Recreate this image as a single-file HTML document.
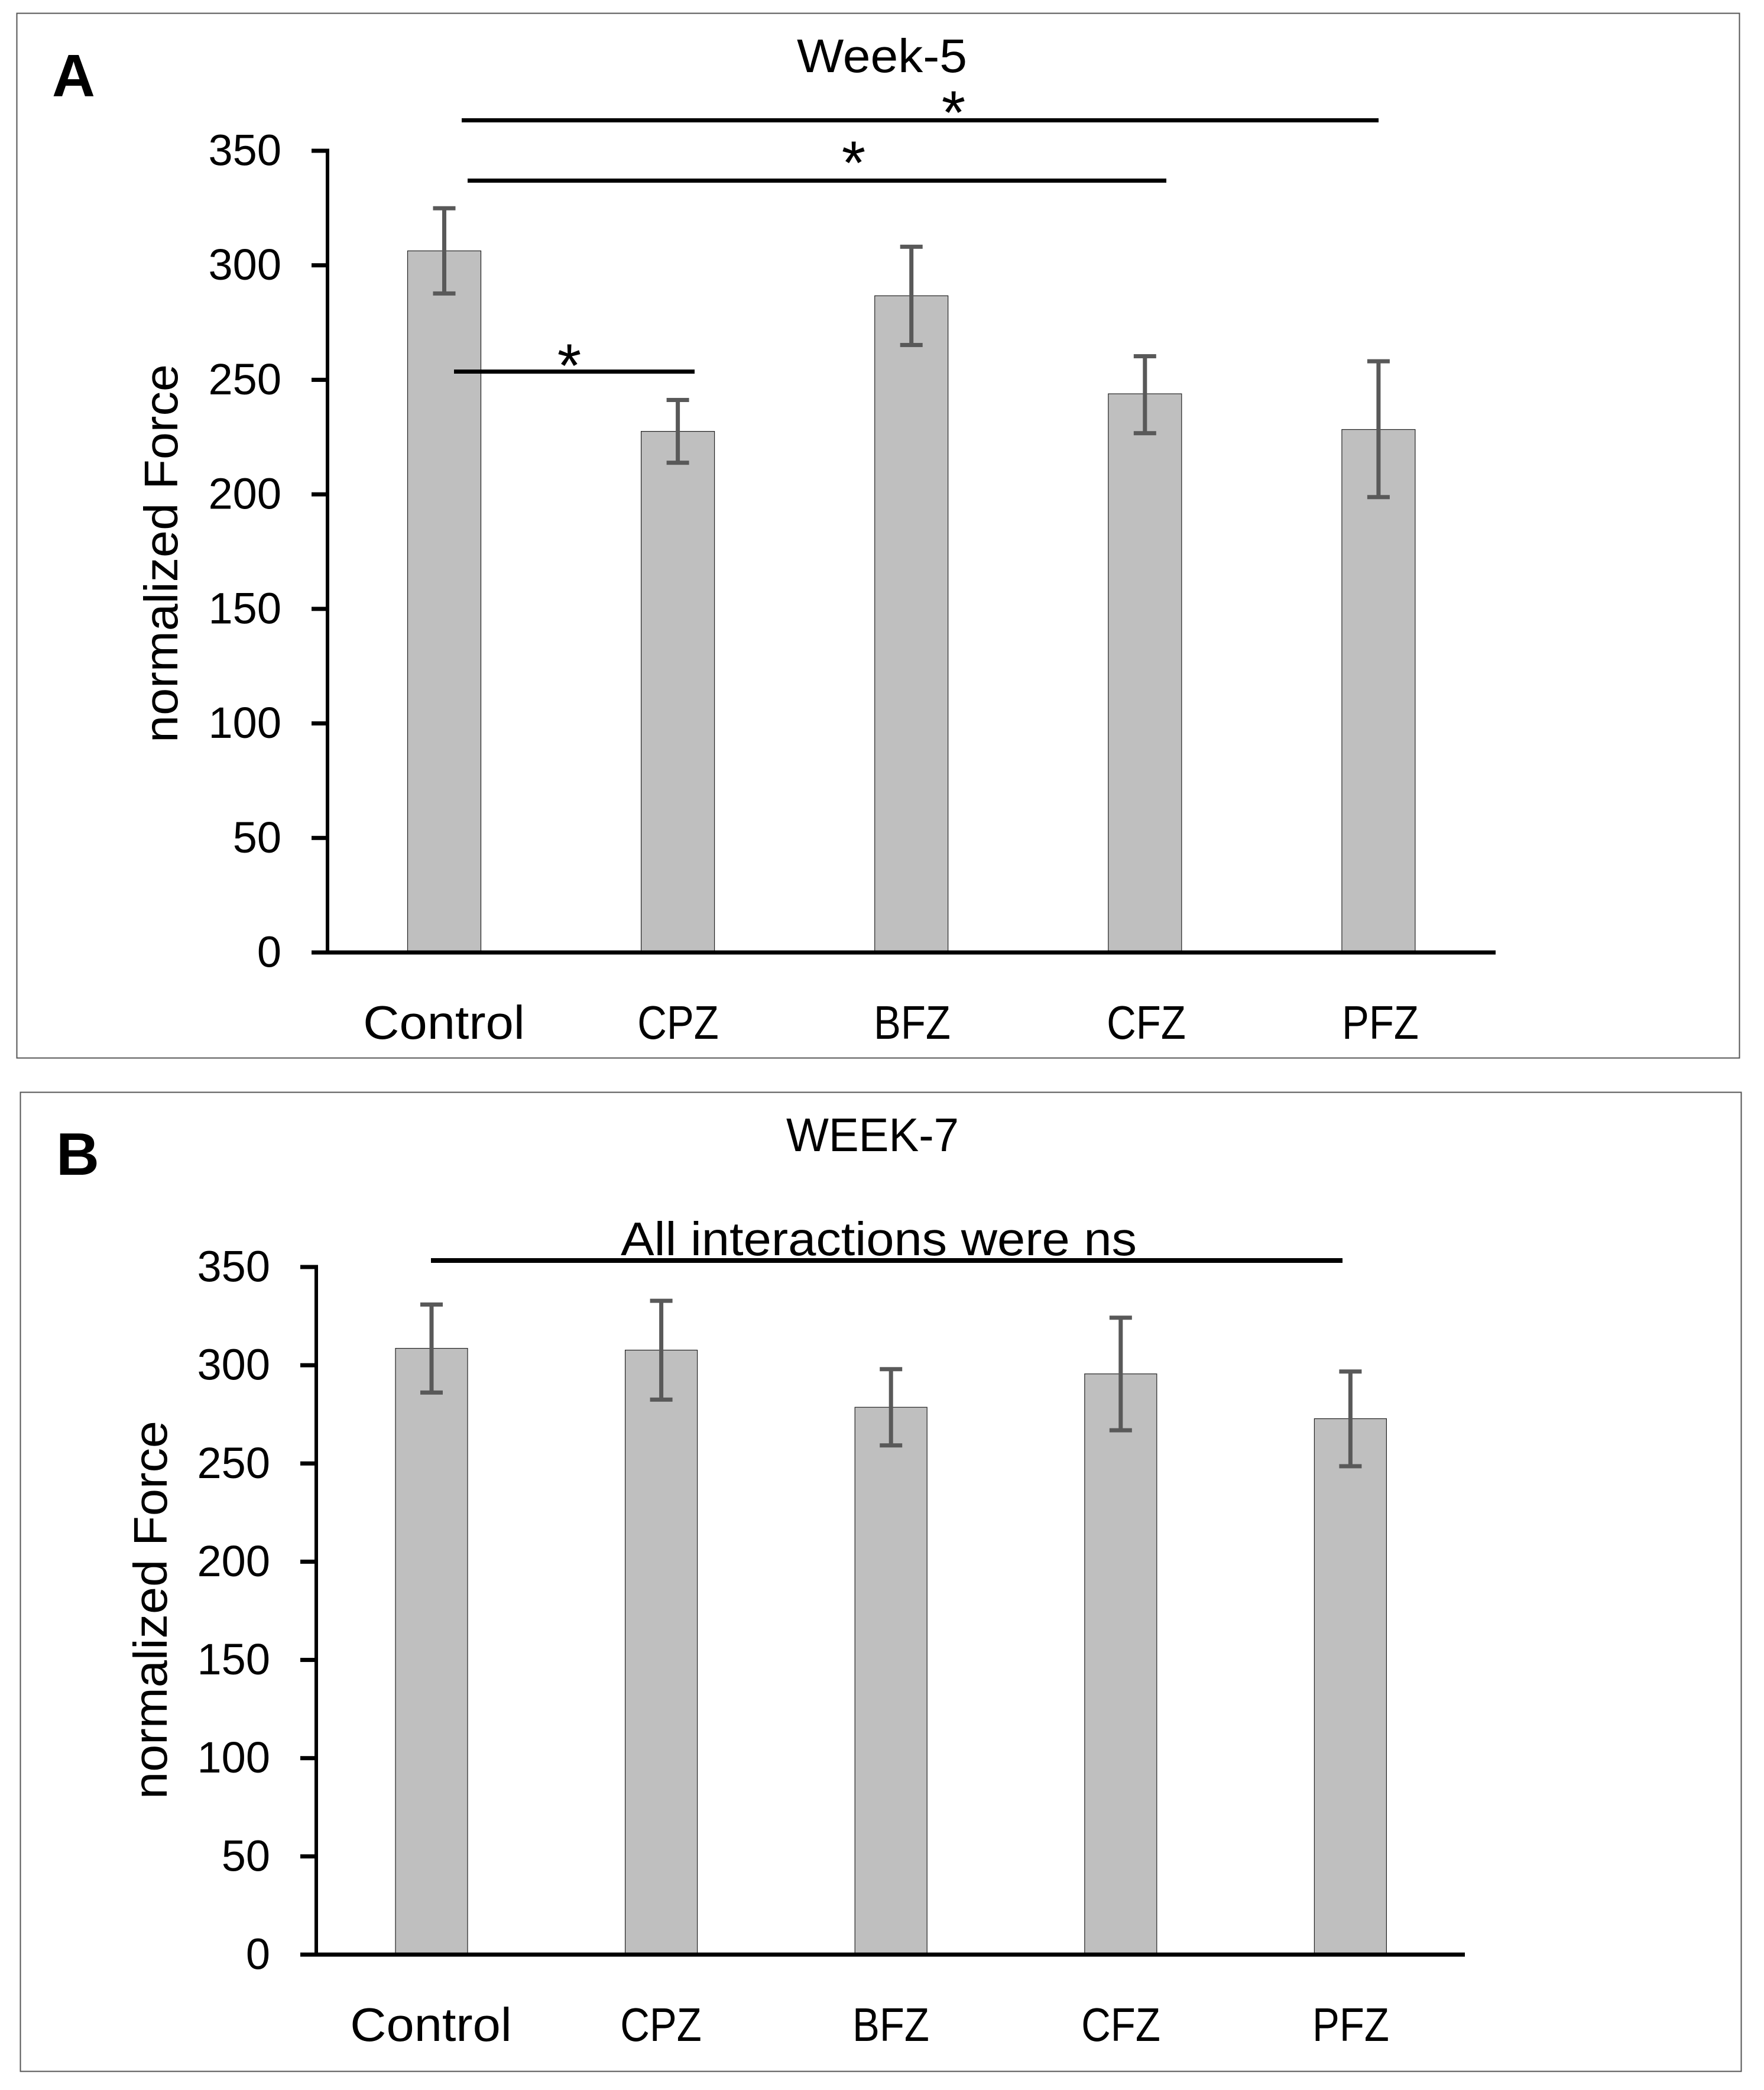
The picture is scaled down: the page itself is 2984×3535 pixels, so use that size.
<!DOCTYPE html>
<html lang="en">
<head>
<meta charset="utf-8">
<title>Normalized Force, Week-5 and Week-7</title>
<style>
html,body{margin:0;padding:0;background:#fff;}
svg{display:block;}
text{font-family:"Liberation Sans",sans-serif;fill:#000;}
</style>
</head>
<body>
<svg id="figure" xmlns="http://www.w3.org/2000/svg" width="2984" height="3535" viewBox="0 0 2984 3535">
  <rect x="0" y="0" width="2984" height="3535" fill="#fff"/>

  <g id="panel-a">
    <rect x="28.5" y="22.5" width="2914" height="1767" fill="none" stroke="#555" stroke-width="2"/>
    <text x="88" y="163" font-size="101" font-weight="700">A</text>
    <text x="1348" y="122" font-size="80" textLength="288" lengthAdjust="spacingAndGlyphs">Week-5</text>
    <rect x="781" y="200" width="1551" height="7" fill="#000"/>
    <text x="1613" y="226" font-size="104" text-anchor="middle">*</text>
    <rect x="791" y="302" width="1182" height="7" fill="#000"/>
    <text x="1444" y="311" font-size="104" text-anchor="middle">*</text>
  </g>

  <g id="panel-b">
    <rect x="34.5" y="1847.5" width="2911" height="1656" fill="none" stroke="#555" stroke-width="2"/>
    <text x="95" y="1987" font-size="101" font-weight="700">B</text>
    <text x="1330" y="1947" font-size="80" textLength="292" lengthAdjust="spacingAndGlyphs">WEEK-7</text>
    <text x="1050" y="2123" font-size="80" textLength="873" lengthAdjust="spacingAndGlyphs">All interactions were ns</text>
    <rect x="729" y="2128" width="1542" height="8" fill="#000"/>
  </g>
</svg>

<script>
const categories = ['Control', 'CPZ', 'BFZ', 'CFZ', 'PFZ'];
const yTickLabels = [0, 50, 100, 150, 200, 250, 300, 350];

const week5Means = [306.3, 227.5, 286.7, 243.9, 228.3];
const week5Upper = [324.9, 241.2, 308.1, 260.3, 258.1];
const week5Lower = [287.7, 213.8, 265.2, 226.7, 198.8];

const week7Means = [308.6, 307.7, 278.6, 295.6, 272.8];
const week7Upper = [330.9, 332.8, 298.0, 324.2, 296.8];
const week7Lower = [286.1, 282.5, 259.2, 266.9, 248.6];

const SVG_NS = 'http://www.w3.org/2000/svg';

function rect(parent, x, y, w, h, fill) {
  const el = document.createElementNS(SVG_NS, 'rect');
  el.setAttribute('x', x);
  el.setAttribute('y', y);
  el.setAttribute('width', w);
  el.setAttribute('height', h);
  el.setAttribute('fill', fill);
  parent.appendChild(el);
  return el;
}

function label(parent, x, y, size, anchor, str) {
  const el = document.createElementNS(SVG_NS, 'text');
  el.setAttribute('x', x);
  el.setAttribute('y', y);
  el.setAttribute('font-size', size);
  el.setAttribute('text-anchor', anchor);
  el.textContent = str;
  parent.appendChild(el);
  return el;
}

function drawChart(groupId, means, upper, lower, frame) {
  const group = document.getElementById(groupId);
  const scaleY = (frame.y0 - frame.y350) / 350;
  const yAxis = v => frame.y0 - v * scaleY;
  const xAxis = i => frame.x0 + frame.step * i;
  const xLabel = i => frame.lx0 + frame.lstep * i;

  categories.forEach((cat, i) => {
    const cx = xAxis(i);
    const bar = rect(group, cx - frame.barW / 2, yAxis(means[i]), frame.barW, frame.y0 - yAxis(means[i]), '#bfbfbf');
    bar.setAttribute('stroke', '#222');
    bar.setAttribute('stroke-width', '1.2');
    
    

    const stem = rect(group, cx - 3.5, yAxis(upper[i]), 7, yAxis(lower[i]) - yAxis(upper[i]), '#595959');
    
    

    const capTop = rect(group, cx - 19, yAxis(upper[i]) - 3.5, 38, 7, '#595959');
    
    

    const capBottom = rect(group, cx - 19, yAxis(lower[i]) - 3.5, 38, 7, '#595959');
    
    

    const text = label(group, xLabel(i), frame.labelY, 80, 'middle', cat);
    const stretch = /^[A-Z]+$/.test(cat) ? 0.86 : 1.06;
    text.setAttribute('textLength', text.getComputedTextLength() * stretch);
    text.setAttribute('lengthAdjust', 'spacingAndGlyphs');
    
    
  });

  const axisY = rect(group, frame.axisX - 3, yAxis(350) - 3.5, 6, frame.y0 - yAxis(350) + 3.5, '#000');
  
  

  const axisX = rect(group, frame.axisX - 27, frame.y0 - 3.5, frame.axisEnd - frame.axisX + 27, 7, '#000');
  
  

  yTickLabels.forEach(v => {
    const tick = rect(group, frame.axisX - 27, yAxis(v) - 3.5, 27, 7, '#000');
    
    

    const text = label(group, frame.tickRight, yAxis(v) + 24.5, 74, 'end', String(v));
    
    
  });

  const title = label(group, 0, 0, 80, 'middle', 'normalized Force');
  title.setAttribute('transform', 'translate(' + frame.titleX + ',' + frame.titleY + ') rotate(-90)');
  title.setAttribute('textLength', 640);
  title.setAttribute('lengthAdjust', 'spacingAndGlyphs');
  
  
}

drawChart('panel-a', week5Means, week5Upper, week5Lower, {
  y0: 1611, y350: 255, x0: 751.5, step: 395.1, lx0: 751, lstep: 396, barW: 124,
  axisX: 554, axisEnd: 2530, tickRight: 476, labelY: 1757, titleX: 300, titleY: 936
});

drawChart('panel-b', week7Means, week7Upper, week7Lower, {
  y0: 3306, y350: 2143, x0: 730, step: 388.6, lx0: 729, lstep: 389, barW: 122,
  axisX: 535, axisEnd: 2478, tickRight: 457, labelY: 3452, titleX: 282, titleY: 2723
});

const panelA = document.getElementById('panel-a');

const line3 = rect(panelA, 768, 625, 407, 7, '#000');



const star3 = label(panelA, 963, 654, 104, 'middle', '*');


</script>
</body>
</html>
